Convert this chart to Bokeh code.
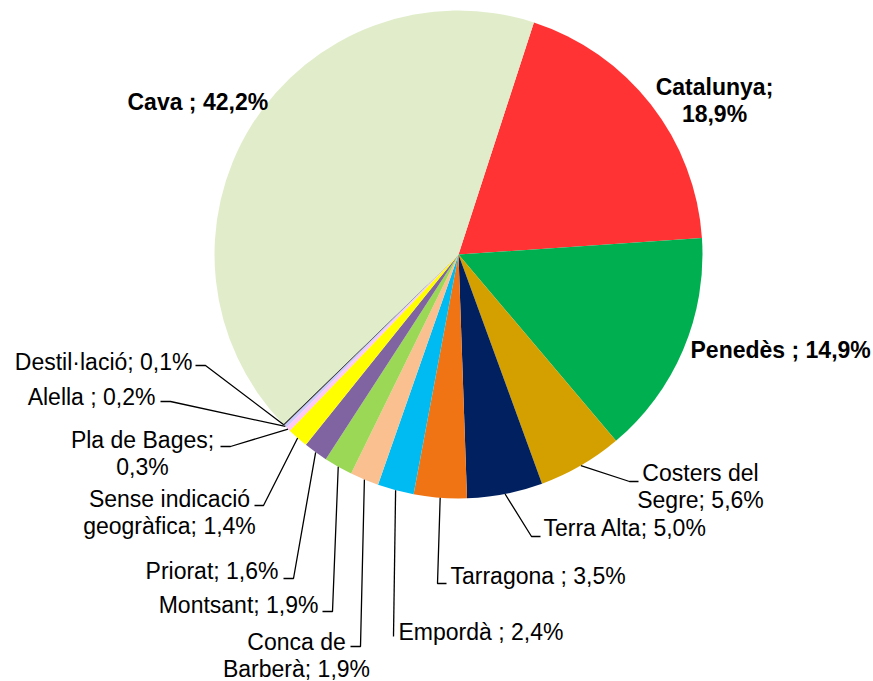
import numpy as np
from bokeh.plotting import figure
from bokeh.models import Range1d, ColumnDataSource
from bokeh.core.properties import value
from bokeh.embed import file_html
from bokeh.resources import INLINE

# ---- data (clockwise order, starting after the Cava slice) ----
categories = ["Catalunya", "Penedès", "Costers del Segre", "Terra Alta", "Tarragona",
              "Empordà", "Conca de Barberà", "Montsant", "Priorat",
              "Sense indicació geogràfica", "Pla de Bages", "Alella", "Destil·lació", "Cava"]
shares = [18.9, 14.9, 5.6, 5.0, 3.5, 2.4, 1.9, 1.9, 1.6, 1.4, 0.3, 0.2, 0.1, 42.2]
label_texts = ["Catalunya;\n18,9%", "Penedès ; 14,9%", "Costers del\nSegre; 5,6%",
               "Terra Alta; 5,0%", "Tarragona ; 3,5%", "Empordà ; 2,4%",
               "Conca de\nBarberà; 1,9%", "Montsant; 1,9%", "Priorat; 1,6%",
               "Sense indicació\ngeogràfica; 1,4%", "Pla de Bages;\n0,3%",
               "Alella ; 0,2%", "Destil·lació; 0,1%", "Cava ; 42,2%"]
colors = ["#FF3333", "#00B050", "#D4A000", "#002060", "#F07314", "#00BBF2",
          "#FAC090", "#9BD855", "#8064A2", "#FFFF00", "#FFC8F5", "#CCCCFF",
          "#333333", "#E1EDCA"]

# ---- layout (page pixel coordinates) ----
W, H = 873, 681
CX, CY, R = 458, 254, 244
FIRST_ANGLE = 18.0  # degrees clockwise from 12 o'clock

# text anchor x, y(center), align, bold, leader points after pie edge
label_layout = [
    (714, 100, "center", True, []),
    (690, 349, "left", True, []),
    (700, 486, "center", False, [(629, 481), (638, 481)]),
    (543, 527, "left", False, [(531, 536), (540, 536)]),
    (450, 575, "left", False, [(437, 583), (446, 583)]),
    (398, 631, "left", False, [(393, 636)]),
    (296, 655, "center", False, [(360, 646), (350, 646)]),
    (318, 604, "right", False, [(332, 611), (322, 611)]),
    (278, 570, "right", False, [(293, 578), (283, 578)]),
    (169, 512, "center", False, [(263, 505), (254, 505)]),
    (142, 453, "center", False, [(230, 446), (220, 446)]),
    (155, 396, "right", False, [(170, 401), (160, 401)]),
    (192, 361, "right", False, [(205, 365), (195, 365)]),
    (127, 101, "left", True, []),
]

def Y(py):
    return H - py

vals = np.array(shares, dtype=float)
total = vals.sum()
cum = np.concatenate([[0.0], np.cumsum(vals)])
theta_start = FIRST_ANGLE + 360.0 * cum[:-1] / total
theta_end = FIRST_ANGLE + 360.0 * cum[1:] / total
theta_mid = (theta_start + theta_end) / 2.0

src = ColumnDataSource(dict(
    cat=categories,
    start=np.radians(90.0 - theta_start),
    end=np.radians(90.0 - theta_end),
    color=colors,
))

p = figure(width=W, height=H, x_range=Range1d(0, W), y_range=Range1d(0, H),
           output_backend="svg", toolbar_location=None, min_border=0,
           x_axis_type=None, y_axis_type=None)
p.grid.visible = False
p.outline_line_color = None
p.background_fill_color = "white"
p.border_fill_color = "white"

p.wedge(x=CX, y=Y(CY), radius=R, start_angle="start", end_angle="end",
        direction="clock", fill_color="color", line_color=None, source=src)

# leader lines
xs, ys = [], []
for i, (tx, ty, al, bold, pts) in enumerate(label_layout):
    if not pts:
        continue
    th = np.radians(theta_mid[i])
    ex = CX + R * np.sin(th)
    ey = CY - R * np.cos(th)
    lx = [ex] + [q[0] for q in pts]
    ly = [Y(ey)] + [Y(q[1]) for q in pts]
    xs.append(lx)
    ys.append(ly)
p.multi_line(xs, ys, line_color="black", line_width=1.3)

for i, (tx, ty, al, bold, pts) in enumerate(label_layout):
    p.text(x=[tx], y=[Y(ty)], text=[label_texts[i]],
           text_font=value("Liberation Sans"), text_font_size="23px",
           text_font_style="bold" if bold else "normal",
           text_align=al, text_baseline="middle", text_line_height=1.05,
           text_color="black")

open("out.html", "w").write(file_html(p, INLINE))
